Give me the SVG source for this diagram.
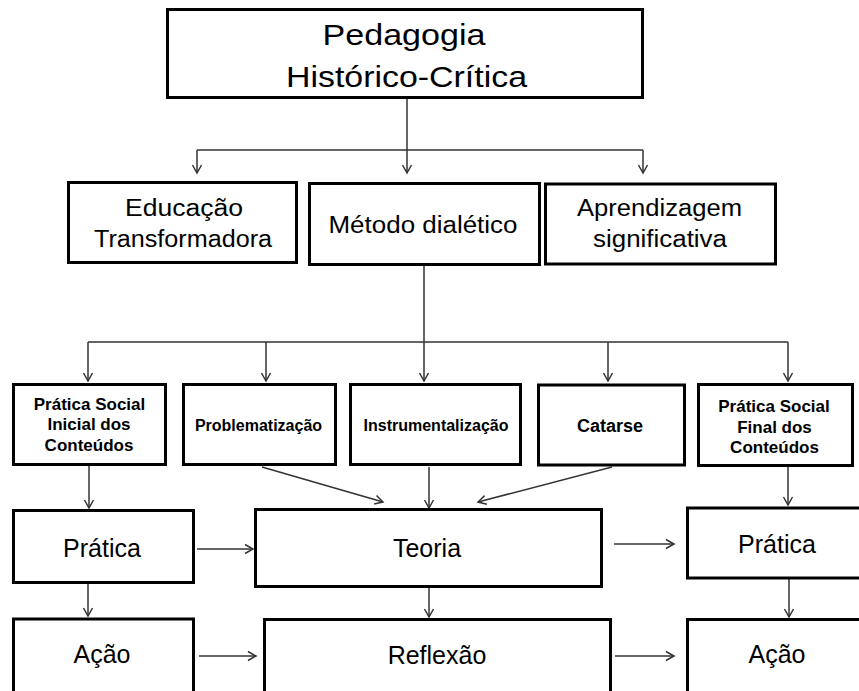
<svg xmlns="http://www.w3.org/2000/svg" width="859" height="691" viewBox="0 0 859 691">
<style>
.box{fill:#fff;stroke:#000;stroke-width:3}
.t{font-family:"Liberation Sans",Arial,sans-serif;fill:#000;text-anchor:middle}
.big{font-size:30px}
.md{font-size:23px}
.bt{font-size:25px}
.b{font-weight:bold}
.c{fill:none;stroke:#333;stroke-width:1.5}
</style>
<defs>
<marker id="ah" markerUnits="userSpaceOnUse" markerWidth="12" markerHeight="12" viewBox="0 0 12 12" refX="10" refY="6" orient="auto">
<path d="M2,1.5 L10,6 L2,10.5" fill="none" stroke="#333" stroke-width="1.5"/>
</marker>
</defs>
<rect width="859" height="691" fill="#fff"/>
<g id="connectors">
<path class="c" d="M407,99 V150 M197,150 H643"/>
<path class="c" marker-end="url(#ah)" d="M407,150 V173"/>
<path class="c" marker-end="url(#ah)" d="M197,150 V173"/>
<path class="c" marker-end="url(#ah)" d="M643,150 V173"/>
<path class="c" d="M424,266 V342 M88,342 H788"/>
<path class="c" marker-end="url(#ah)" d="M88,342 V381"/>
<path class="c" marker-end="url(#ah)" d="M266,342 V381"/>
<path class="c" marker-end="url(#ah)" d="M424,342 V381"/>
<path class="c" marker-end="url(#ah)" d="M608,342 V381"/>
<path class="c" marker-end="url(#ah)" d="M788,342 V381"/>
<path class="c" marker-end="url(#ah)" d="M89,466 V508"/>
<path class="c" marker-end="url(#ah)" d="M262,467 L383,502"/>
<path class="c" marker-end="url(#ah)" d="M429,467 V508"/>
<path class="c" marker-end="url(#ah)" d="M612,467 L478,502"/>
<path class="c" marker-end="url(#ah)" d="M788,467 V505"/>
<path class="c" marker-end="url(#ah)" d="M197,549 H253"/>
<path class="c" marker-end="url(#ah)" d="M614,544 H674"/>
<path class="c" marker-end="url(#ah)" d="M88,584 V616"/>
<path class="c" marker-end="url(#ah)" d="M429,588 V617"/>
<path class="c" marker-end="url(#ah)" d="M789,579 V617"/>
<path class="c" marker-end="url(#ah)" d="M199,656 H256"/>
<path class="c" marker-end="url(#ah)" d="M615,656 H674"/>
</g>
<g id="n-pedagogia">
<rect class="box" x="167.5" y="9.5" width="475" height="88"/>
<text class="t big" x="404" y="45" textLength="163" lengthAdjust="spacingAndGlyphs">Pedagogia</text>
<text class="t big" x="406.5" y="87" textLength="241" lengthAdjust="spacingAndGlyphs">Histórico-Crítica</text>
</g>
<g id="n-educacao">
<rect class="box" x="68.5" y="182.5" width="228" height="80"/>
<text class="t md" x="184" y="216" textLength="118" lengthAdjust="spacingAndGlyphs">Educação</text>
<text class="t md" x="183" y="247" textLength="178" lengthAdjust="spacingAndGlyphs">Transformadora</text>
</g>
<g id="n-metodo">
<rect class="box" x="309.5" y="183.5" width="230" height="81"/>
<text class="t md" x="423" y="233" textLength="189" lengthAdjust="spacingAndGlyphs">Método dialético</text>
</g>
<g id="n-aprendizagem">
<rect class="box" x="545.5" y="184" width="230" height="80"/>
<text class="t md" x="659.5" y="216" textLength="165" lengthAdjust="spacingAndGlyphs">Aprendizagem</text>
<text class="t md" x="660" y="247" textLength="134" lengthAdjust="spacingAndGlyphs">significativa</text>
</g>
<g id="n-pratica-social-inicial">
<rect class="box" x="13.5" y="384.5" width="152" height="80"/>
<text class="t b" font-size="17" x="89.5" y="410">Prática Social</text>
<text class="t b" font-size="17" x="89" y="430">Inicial dos</text>
<text class="t b" font-size="17" x="89" y="451">Conteúdos</text>
</g>
<g id="n-problematizacao">
<rect class="box" x="183.5" y="384.5" width="152" height="80"/>
<text class="t b" font-size="16" x="258.5" y="431">Problematização</text>
</g>
<g id="n-instrumentalizacao">
<rect class="box" x="350.5" y="384.5" width="170" height="80"/>
<text class="t b" font-size="16" x="436" y="431">Instrumentalização</text>
</g>
<g id="n-catarse">
<rect class="box" x="538.5" y="385" width="146" height="80"/>
<text class="t b" font-size="18" x="610" y="432">Catarse</text>
</g>
<g id="n-pratica-social-final">
<rect class="box" x="698.5" y="384.5" width="154" height="81"/>
<text class="t b" font-size="17" x="774" y="412">Prática Social</text>
<text class="t b" font-size="17" x="774.5" y="433">Final dos</text>
<text class="t b" font-size="17" x="774.5" y="453">Conteúdos</text>
</g>
<g id="n-pratica-1">
<rect class="box" x="13.5" y="510.5" width="180" height="72"/>
<text class="t bt" x="102" y="557">Prática</text>
</g>
<g id="n-teoria">
<rect class="box" x="255.5" y="509.5" width="346" height="77"/>
<text class="t bt" x="427" y="557">Teoria</text>
</g>
<g id="n-pratica-2">
<rect class="box" x="687.5" y="508" width="200" height="70"/>
<text class="t bt" x="777" y="553">Prática</text>
</g>
<g id="n-acao-1">
<rect class="box" x="13.5" y="619" width="180" height="80"/>
<text class="t bt" x="102" y="663">Ação</text>
</g>
<g id="n-reflexao">
<rect class="box" x="264.5" y="619.5" width="346" height="80"/>
<text class="t bt" x="437" y="664">Reflexão</text>
</g>
<g id="n-acao-2">
<rect class="box" x="687.5" y="619.5" width="200" height="80"/>
<text class="t bt" x="777" y="663">Ação</text>
</g>
</svg>
